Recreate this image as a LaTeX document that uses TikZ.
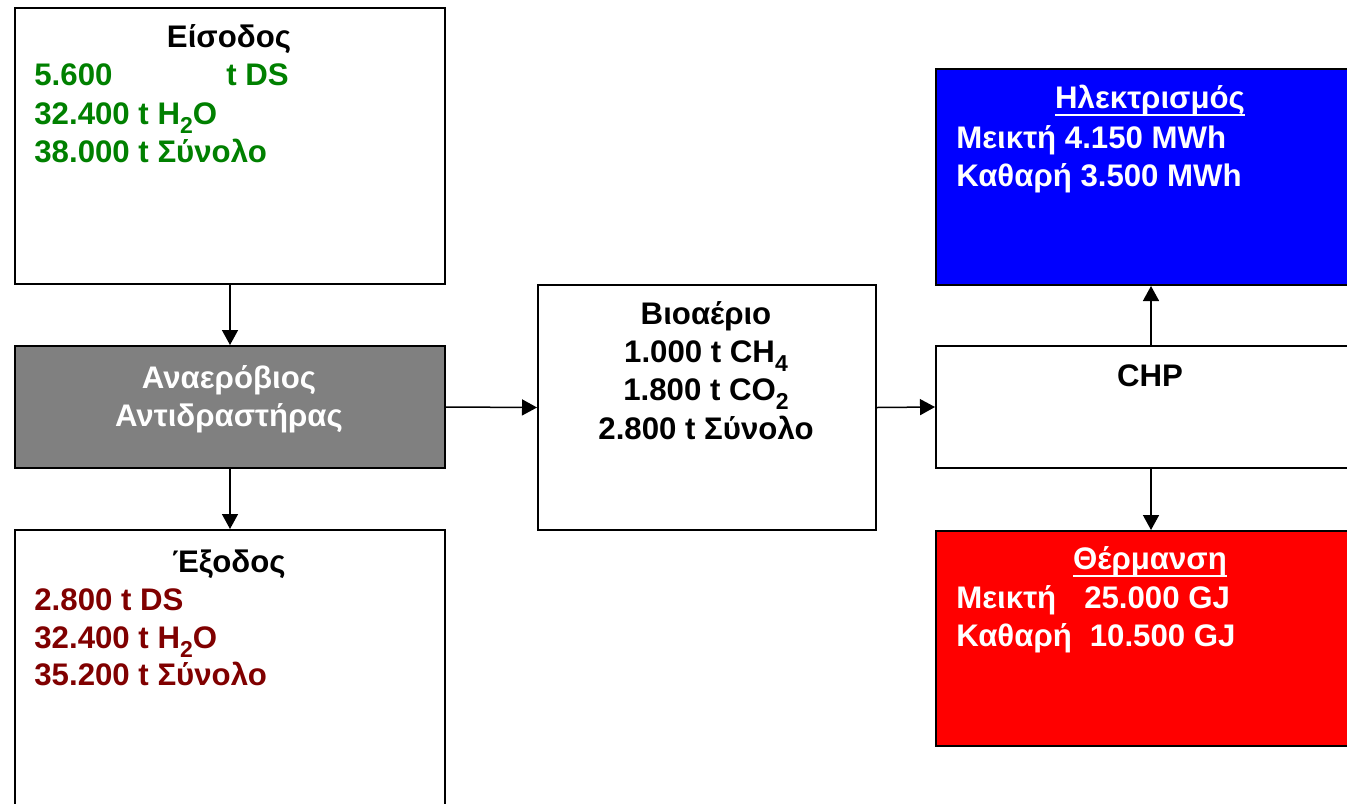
\documentclass[tikz,border=0pt]{standalone}
\usepackage{fontspec}
\setmainfont{Liberation Sans}
\usetikzlibrary{arrows.meta}
\definecolor{ingreen}{RGB}{0,128,0}
\definecolor{outred}{RGB}{128,0,0}
\definecolor{elecblue}{RGB}{0,0,255}
\definecolor{heatred}{RGB}{255,0,0}
\definecolor{reactgray}{RGB}{128,128,128}
\newcommand{\chemsub}[1]{\raisebox{-4.5pt}{\fontsize{11.5}{11.5}\selectfont #1}}
\newcommand{\thickul}[1]{\leavevmode\setbox0\hbox{#1}\rlap{\rule[-4pt]{\wd0}{1.1pt}}\box0}
\begin{document}
\begin{tikzpicture}[x=0.5pt,y=-0.5pt,
  box/.style={draw=black, line width=1pt, rectangle, anchor=north west, inner sep=0pt},
  txt/.style={inner sep=0pt, font=\fontsize{15.6}{18}\selectfont\bfseries},
  flow/.style={line width=0.75pt, -{Triangle[length=7.5pt,width=8pt]}}]
\useasboundingbox (0,0) rectangle (1347,803);
\fill[white] (0,0) rectangle (1347,803);
\clip (0,0) rectangle (1347,803);
% boxes
\node[box, minimum width=215pt, minimum height=138pt] (in) at (14,7) {};
\node[box, fill=reactgray, minimum width=215pt, minimum height=61pt] (reactor) at (14,345) {};
\node[box, minimum width=215pt, minimum height=152pt] (out) at (14,529) {};
\node[box, minimum width=169pt, minimum height=122.5pt] (bio) at (537,284) {};
\node[box, fill=elecblue, minimum width=215pt, minimum height=108pt] (elec) at (935,68) {};
\node[box, minimum width=215pt, minimum height=61pt] (chp) at (935,345) {};
\node[box, fill=heatred, minimum width=215pt, minimum height=107.5pt] (heat) at (935,530) {};
% arrows
\draw[flow] (in.south) -- (reactor.north);
\draw[flow] (reactor.south) -- (out.north);
\draw[flow] (reactor.east) -- (bio.west);
\draw[flow] (bio.east) -- (chp.west);
\draw[flow] (chp.north) -- (elec.south);
\draw[flow] (chp.south) -- (heat.north);
% input text
\node[txt, anchor=base] (in-title) at (229,47) {Είσοδος};
\node[txt, anchor=base west, text=ingreen] (in-1a) at (34,85) {5.600};
\node[txt, anchor=base west, text=ingreen] (in-1b) at (226,85) {t DS};
\node[txt, anchor=base west, text=ingreen] (in-2) at (34,124) {32.400 t H\chemsub{2}O};
\node[txt, anchor=base west, text=ingreen] (in-3) at (34,162) {38.000 t Σύνολο};
% reactor text
\node[txt, anchor=base, text=white] (r-1) at (229,388) {Αναερόβιος};
\node[txt, anchor=base, text=white] (r-2) at (229,426) {Αντιδραστήρας};
% output text
\node[txt, anchor=base] (out-title) at (229,572) {Έξοδος};
\node[txt, anchor=base west, text=outred] (out-1) at (34,610) {2.800 t DS};
\node[txt, anchor=base west, text=outred] (out-2) at (34,648) {32.400 t H\chemsub{2}O};
\node[txt, anchor=base west, text=outred] (out-3) at (34,685) {35.200 t Σύνολο};
% biogas text
\node[txt, anchor=base] (bio-title) at (706,324) {Βιοαέριο};
\node[txt, anchor=base] (bio-1) at (706,362) {1.000 t CH\chemsub{4}};
\node[txt, anchor=base] (bio-2) at (706,400) {1.800 t CO\chemsub{2}};
\node[txt, anchor=base] (bio-3) at (706,439) {2.800 t Σύνολο};
% CHP
\node[txt, anchor=base] (chp-title) at (1150,386) {CHP};
% electricity
\node[txt, anchor=base, text=white] (elec-title) at (1150,108) {\thickul{Ηλεκτρισμός}};
\node[txt, anchor=base west, text=white] (elec-1) at (956,148) {Μεικτή 4.150 MWh};
\node[txt, anchor=base west, text=white] (elec-2) at (956,186) {Καθαρή 3.500 MWh};
% heating
\node[txt, anchor=base, text=white] (heat-title) at (1150,569) {\thickul{Θέρμανση}};
\node[txt, anchor=base west, text=white] (heat-1) at (956,608) {Μεικτή\hspace{14pt}25.000 GJ};
\node[txt, anchor=base west, text=white] (heat-2) at (956,646) {Καθαρή\hspace{9pt}10.500 GJ};
\end{tikzpicture}
\end{document}
